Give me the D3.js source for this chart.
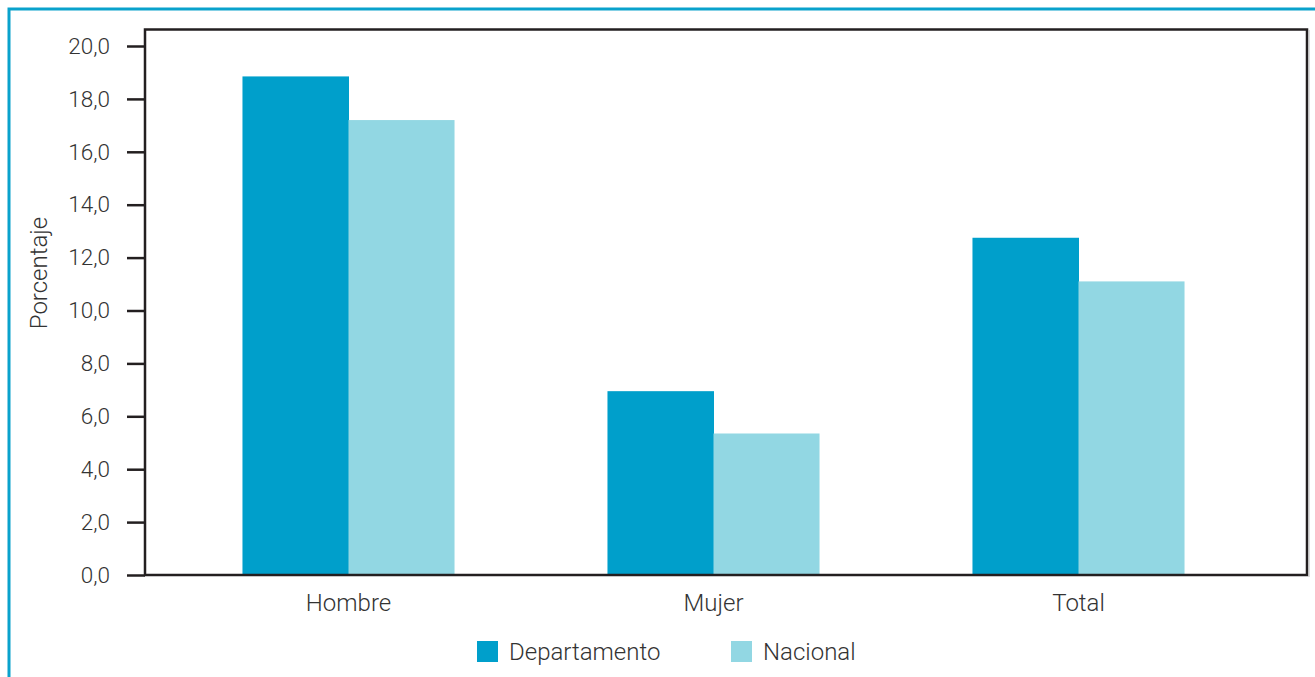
<!DOCTYPE html>
<html>
<head>
<meta charset="utf-8">
<script src="https://cdn.jsdelivr.net/npm/d3@7"></script>
<style>
  html, body { margin: 0; padding: 0; background: #fff; }
  svg { display: block; font-family: Roboto, "Noto Sans", sans-serif; }
</style>
</head>
<body>
<svg id="chart" width="1315" height="677"></svg>
<script>
const categories = ["Hombre", "Mujer", "Total"];
const seriesNames = ["Departamento", "Nacional"];
const departamento = [18.85, 6.95, 12.75];
const nacional = [17.2, 5.35, 11.1];
const yTicks = [0, 2, 4, 6, 8, 10, 12, 14, 16, 18, 20];
const colors = ["#009fcb", "#92d7e3"];

const svg = d3.select("#chart");

// outer decorative border
svg.append("path")
  .attr("d", "M9,677 L9,9 L1315,9")
  .attr("fill", "none").attr("stroke", "#0aa2cc").attr("stroke-width", 3);

const y = d3.scaleLinear().domain([0, 20]).range([575, 46]);
const x0 = d3.scaleBand().domain(categories).range([166, 1261])
  .paddingInner(0.419).paddingOuter(0.2095);
const x1 = d3.scaleBand().domain(seriesNames).range([0, x0.bandwidth()]);

const data = categories.map((c, i) => ({cat: c, vals: [departamento[i], nacional[i]]}));

// bars
const g = svg.append("g");
data.forEach(d => {
  d.vals.forEach((v, j) => {
    g.append("rect")
      .attr("x", x0(d.cat) + x1(seriesNames[j]))
      .attr("y", y(v))
      .attr("width", x1.bandwidth() + (j === 0 ? 0.5 : 0))
      .attr("height", y(0) - y(v))
      .attr("fill", colors[j]);
  });
});

// plot box
svg.append("rect")
  .attr("x", 145).attr("y", 29.5).attr("width", 1162).attr("height", 545.5)
  .attr("fill", "none").attr("stroke", "#231f20").attr("stroke-width", 2.5);
svg.append("line")
  .attr("x1", 1309).attr("x2", 1309).attr("y1", 30).attr("y2", 577)
  .attr("stroke", "#bbb").attr("stroke-width", 1);

// y axis
const yAxis = d3.axisLeft(y).tickValues(yTicks).tickSize(18).tickPadding(17)
  .tickFormat(d => d3.format(".1f")(d).replace(".", ","));
const ya = svg.append("g").attr("transform", "translate(145,0)").call(yAxis);
ya.select(".domain").remove();
ya.selectAll(".tick line").attr("stroke", "#231f20").attr("stroke-width", 2.5);
ya.selectAll(".tick text").attr("fill", "#333").attr("font-size", 22.5)
  .attr("font-weight", 300).attr("font-family", "Roboto, sans-serif");

// x axis labels
const xAxis = d3.axisBottom(x0).tickSize(0).tickPadding(19);
const xa = svg.append("g").attr("transform", "translate(0,575)").call(xAxis);
xa.select(".domain").remove();
xa.selectAll(".tick text").attr("fill", "#333").attr("font-size", 24)
  .attr("font-weight", 300).attr("font-family", "Roboto, sans-serif");

// y title
svg.append("text")
  .attr("transform", "translate(47,273) rotate(-90)")
  .attr("text-anchor", "middle")
  .attr("fill", "#333").attr("font-size", 24).attr("font-weight", 300)
  .text("Porcentaje");

// legend
const legendX = [477, 731];
seriesNames.forEach((n, i) => {
  svg.append("rect").attr("x", legendX[i]).attr("y", 641)
    .attr("width", 21).attr("height", 21).attr("fill", colors[i]);
  svg.append("text").attr("x", legendX[i] + 32).attr("y", 660)
    .attr("fill", "#333").attr("font-size", 24).attr("font-weight", 300)
    .text(n);
});
</script>
</body>
</html>
